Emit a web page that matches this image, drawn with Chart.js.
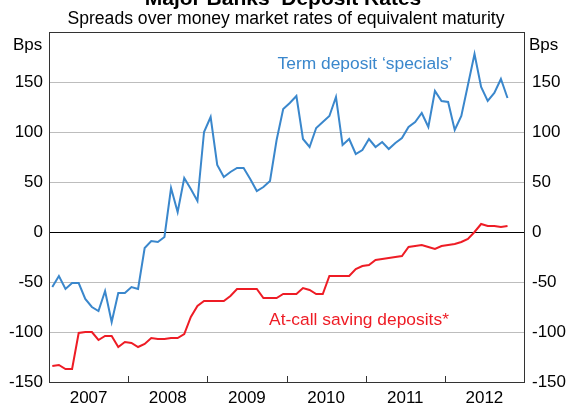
<!DOCTYPE html>
<html>
<head>
<meta charset="utf-8">
<title>Major Banks' Deposit Rates</title>
<script src="https://cdn.jsdelivr.net/npm/chart.js@4"></script>
<style>
  html, body { margin: 0; padding: 0; background: #fff; }
</style>
</head>
<body>
<canvas id="myChart" width="566" height="406"></canvas>
<script>
// Monthly observations, Jan 2007 to Oct 2012
const startYear = 2007;
const yearLabels = [2007, 2008, 2009, 2010, 2011, 2012];
const yTicks = [-150, -100, -50, 0, 50, 100, 150];

// Term deposit 'specials' (bps)
const termSpecials = [
  -55, -44, -57, -51, -51, -67, -75, -79, -59, -90,
  -61, -61, -55, -57, -16, -9, -10, -5, 44, 20,
  54, 43, 31, 100, 115, 67, 55, 60, 64, 64,
  53, 41, 45, 51, 92, 123, 129, 136, 93, 85,
  104, 110, 116, 135, 87, 93, 78, 82, 93, 85,
  90, 83, 89, 94, 105, 110, 119, 105, 141, 131,
  130, 102, 116, 147, 178, 145, 131, 139, 153, 134
];

// At-call saving deposits (bps)
const atCall = [
  -134, -133, -137, -137, -101, -100, -100, -108, -104, -104,
  -115, -110, -111, -115, -112, -106, -107, -107, -106, -106,
  -102, -85, -74, -69, -69, -69, -69, -64, -57, -57,
  -57, -57, -66, -66, -66, -62, -62, -62, -56, -58,
  -62, -62, -44, -44, -44, -44, -37, -34, -33, -28,
  -27, -26, -25, -24, -15, -14, -13, -15, -17, -14,
  -13, -12, -10, -7, 0, 8, 6, 6, 5, 6
];

const toPoints = arr => arr.map((v, i) => ({ x: startYear + (i + 0.5) / 12, y: v }));

const FONT = "'Liberation Sans', Arial, Helvetica, sans-serif";
const BLUE = "#3a87cc";
const RED = "#ee1c25";

// Draws title, unit labels, series labels, frame and year ticks
const decorations = {
  id: "decorations",
  afterDraw(chart) {
    const ctx = chart.ctx;
    const area = chart.chartArea;
    const xs = chart.scales.x;
    ctx.save();

    // year boundary ticks, pointing into the plot
    ctx.strokeStyle = "#333";
    ctx.lineWidth = 1;
    for (let yr = 2008; yr <= 2012; yr++) {
      const px = Math.round(xs.getPixelForValue(yr)) + 0.5;
      ctx.beginPath();
      ctx.moveTo(px, area.bottom);
      ctx.lineTo(px, area.bottom - 6);
      ctx.stroke();
    }

    // frame
    ctx.strokeStyle = "#333";
    ctx.lineWidth = 1;
    ctx.strokeRect(Math.round(area.left) + 0.5, Math.round(area.top) + 0.5,
      Math.round(area.right - area.left), Math.round(area.bottom - area.top));

    ctx.fillStyle = "#000";
    ctx.textAlign = "center";
    ctx.textBaseline = "alphabetic";
    ctx.font = "bold 21px " + FONT;
    ctx.fillText("Major Banks’ Deposit Rates", 283, 5);
    ctx.font = "17.6px " + FONT;
    ctx.fillText("Spreads over money market rates of equivalent maturity", 286, 24);

    ctx.font = "17px " + FONT;
    ctx.textAlign = "left";
    ctx.fillText("Bps", 13, 50);
    ctx.fillText("Bps", 529, 50);

    ctx.textAlign = "center";
    ctx.font = "17.4px " + FONT;
    ctx.fillStyle = BLUE;
    ctx.fillText("Term deposit ‘specials’", 365, 69);
    ctx.fillStyle = RED;
    ctx.fillText("At-call saving deposits*", 359, 325);
    ctx.restore();
  }
};

const keepTicks = (scale) => {
  scale.ticks = yTicks.map(v => ({ value: v }));
};

const ctx = document.getElementById("myChart").getContext("2d");

new Chart(ctx, {
  type: "line",
  data: {
    datasets: [
      {
        label: "Term deposit 'specials'",
        data: toPoints(termSpecials),
        borderColor: BLUE,
        borderWidth: 2,
        pointRadius: 0,
        tension: 0,
        yAxisID: "y"
      },
      {
        label: "At-call saving deposits*",
        data: toPoints(atCall),
        borderColor: RED,
        borderWidth: 2,
        pointRadius: 0,
        tension: 0,
        yAxisID: "y"
      }
    ]
  },
  options: {
    responsive: false,
    animation: false,
    layout: { padding: { top: 32, left: 0, right: 0, bottom: 0 } },
    plugins: {
      legend: { display: false },
      title: { display: false },
      tooltip: { enabled: false }
    },
    scales: {
      x: {
        type: "linear",
        min: 2007,
        max: 2013,
        afterBuildTicks: (scale) => {
          scale.ticks = yearLabels.map(y => ({ value: y + 0.5 }));
        },
        afterFit: (scale) => { scale.height = 24; },
        grid: { display: false, drawTicks: false },
        border: { display: false },
        ticks: {
          color: "#000",
          font: { family: FONT, size: 17 },
          padding: 6,
          maxRotation: 0,
          autoSkip: false,
          callback: (v) => String(Math.floor(v))
        }
      },
      y: {
        position: "left",
        min: -150,
        max: 200,
        afterBuildTicks: keepTicks,
        afterFit: (scale) => { scale.width = 49; },
        grid: {
          drawTicks: false,
          color: (c) => (c.tick && c.tick.value === 0 ? "#000" : "#bdbdbd"),
          lineWidth: 1
        },
        border: { display: false },
        ticks: {
          color: "#000",
          font: { family: FONT, size: 17 },
          padding: 6
        }
      },
      y2: {
        position: "right",
        min: -150,
        max: 200,
        afterBuildTicks: keepTicks,
        afterFit: (scale) => { scale.width = 42; },
        grid: { display: false, drawTicks: false },
        border: { display: false },
        ticks: {
          color: "#000",
          font: { family: FONT, size: 17 },
          padding: 8
        }
      }
    }
  },
  plugins: [decorations]
});
</script>
</body>
</html>
